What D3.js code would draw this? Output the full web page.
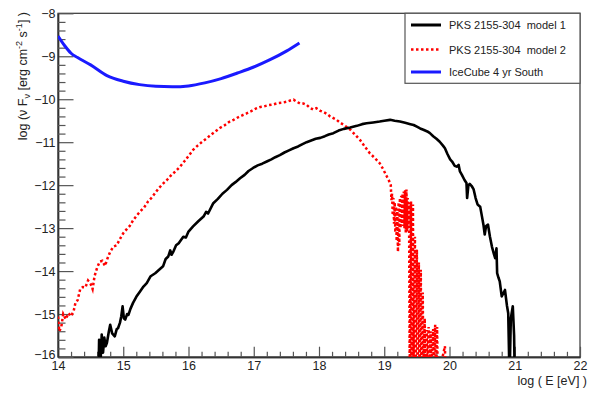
<!DOCTYPE html>
<html><head><meta charset="utf-8">
<script src="https://cdn.jsdelivr.net/npm/d3@7"></script>
<style>
html,body{margin:0;padding:0;background:#fff;}
svg{display:block;font-family:"Liberation Sans",Arial,Helvetica,sans-serif;}
</style></head>
<body><svg id="c" width="591" height="396"></svg>
<script>
// ---------- data ----------
const xTicks = [14,15,16,17,18,19,20,21,22];
const yTicks = [-16,-15,-14,-13,-12,-11,-10,-9,-8];
const seriesNames = ["PKS 2155-304  model 1","PKS 2155-304  model 2","IceCube 4 yr South"];

const iceLogE = [14.0,14.1,14.2,14.3,14.5,14.75,15.0,15.25,15.5,15.75,16.0,16.25,16.5,16.75,17.0,17.25,17.5,17.7];
const iceLogF = [-8.53,-8.75,-8.93,-9.03,-9.2,-9.45,-9.58,-9.66,-9.7,-9.71,-9.69,-9.62,-9.52,-9.39,-9.25,-9.08,-8.88,-8.69];

const m1LogE = [14.62,14.63,14.65,14.67,14.69,14.71,14.73,14.75,14.78,14.8,14.83,14.87,14.9,14.92,14.95,14.97,14.99,15.01,15.03,15.06,15.08,15.11,15.15,15.2,15.26,15.31,15.36,15.42,15.49,15.55,15.61,15.65,15.69,15.72,15.74,15.77,15.81,15.85,15.92,15.96,16.0,16.07,16.15,16.23,16.27,16.3,16.38,16.45,16.52,16.59,16.66,16.72,16.79,16.86,16.92,16.99,17.06,17.13,17.2,17.27,17.33,17.4,17.47,17.54,17.61,17.68,17.74,17.81,17.88,17.95,18.02,18.09,18.15,18.22,18.3,18.38,18.48,18.58,18.66,18.73,18.83,18.93,19.0,19.09,19.16,19.24,19.32,19.4,19.45,19.5,19.55,19.6,19.66,19.7,19.75,19.8,19.85,19.9,19.93,19.97,20.01,20.04,20.08,20.11,20.14,20.16,20.19,20.23,20.26,20.27,20.29,20.31,20.34,20.37,20.4,20.43,20.47,20.5,20.52,20.54,20.56,20.59,20.62,20.65,20.68,20.7,20.72,20.73,20.75,20.77,20.8,20.83,20.85,20.88,20.9,20.92,20.94,20.97,20.99,21.0];
const m1LogF = [-16.5,-15.6,-16.2,-15.48,-15.9,-15.55,-15.75,-15.67,-15.4,-15.25,-15.45,-15.52,-15.35,-15.33,-15.2,-15.05,-14.82,-15.1,-15.13,-15.0,-15.02,-14.88,-14.74,-14.6,-14.47,-14.36,-14.28,-14.12,-14.05,-13.97,-13.89,-13.72,-13.66,-13.52,-13.62,-13.54,-13.4,-13.35,-13.2,-13.22,-13.08,-12.96,-12.84,-12.73,-12.62,-12.66,-12.42,-12.32,-12.2,-12.11,-12.0,-11.93,-11.84,-11.76,-11.67,-11.6,-11.54,-11.5,-11.45,-11.4,-11.35,-11.3,-11.24,-11.19,-11.14,-11.1,-11.05,-11.0,-10.96,-10.92,-10.9,-10.86,-10.82,-10.79,-10.73,-10.69,-10.66,-10.62,-10.58,-10.56,-10.54,-10.52,-10.5,-10.48,-10.5,-10.52,-10.55,-10.58,-10.6,-10.64,-10.68,-10.71,-10.75,-10.79,-10.86,-10.92,-10.99,-11.08,-11.14,-11.28,-11.4,-11.45,-11.55,-11.57,-11.53,-11.68,-11.76,-11.88,-11.95,-12.3,-12.0,-11.97,-12.02,-12.1,-12.3,-12.45,-12.5,-12.75,-12.92,-13.15,-12.95,-12.92,-13.2,-13.43,-13.6,-13.7,-13.47,-14.05,-14.15,-14.24,-14.59,-14.5,-14.44,-14.8,-14.98,-16.5,-15.1,-14.82,-15.5,-16.5];

const m2LogE = [14.0,14.02,14.05,14.08,14.12,14.16,14.2,14.24,14.27,14.3,14.34,14.38,14.42,14.46,14.5,14.53,14.56,14.6,14.64,14.68,14.72,14.76,14.8,14.85,14.9,14.95,15.0,15.05,15.1,15.15,15.2,15.26,15.32,15.38,15.43,15.48,15.54,15.6,15.67,15.74,15.8,15.87,15.94,16.0,16.07,16.14,16.21,16.28,16.35,16.42,16.48,16.55,16.62,16.69,16.76,16.83,16.89,16.96,17.03,17.1,17.15,17.22,17.3,17.37,17.44,17.5,17.56,17.61,17.66,17.71,17.76,17.81,17.86,17.91,17.96,18.02,18.07,18.12,18.17,18.22,18.27,18.32,18.4,18.48,18.55,18.63,18.7,18.78,18.85,18.93,18.98,19.04,19.09,19.1,19.11,19.12,19.13,19.14,19.15,19.16,19.17,19.18,19.19,19.2,19.21,19.22,19.23,19.24,19.25,19.26,19.27,19.28,19.29,19.3,19.31,19.32,19.33,19.34,19.35,19.36,19.37,19.38,19.39,19.41,19.42,19.44,19.45,19.47,19.48,19.5,19.51,19.53,19.54,19.56,19.57,19.59,19.6,19.62,19.63,19.65,19.66,19.68,19.69,19.71,19.72,19.75,19.76,19.78,19.79,19.81,19.82,19.93,19.94];
const m2LogF = [-15.06,-15.4,-15.3,-15.0,-15.12,-14.98,-15.05,-14.93,-14.72,-14.68,-14.42,-14.37,-14.38,-14.22,-14.3,-14.42,-14.12,-13.92,-13.78,-13.76,-13.88,-13.7,-13.55,-13.43,-13.4,-13.25,-13.12,-13.03,-12.95,-12.82,-12.72,-12.61,-12.52,-12.38,-12.3,-12.2,-12.08,-11.98,-11.88,-11.76,-11.68,-11.57,-11.44,-11.32,-11.18,-11.08,-10.99,-10.91,-10.82,-10.74,-10.67,-10.61,-10.53,-10.48,-10.42,-10.37,-10.33,-10.28,-10.22,-10.18,-10.17,-10.14,-10.12,-10.09,-10.08,-10.06,-10.03,-10.01,-10.06,-10.1,-10.1,-10.13,-10.2,-10.24,-10.21,-10.27,-10.3,-10.34,-10.4,-10.44,-10.48,-10.54,-10.62,-10.71,-10.82,-10.95,-11.1,-11.26,-11.36,-11.49,-11.62,-11.8,-11.95,-12.0,-12.35,-12.2,-12.7,-12.3,-12.9,-12.4,-13.1,-12.5,-13.3,-12.6,-13.55,-12.4,-13.4,-12.3,-13.0,-12.25,-12.9,-12.2,-12.95,-12.15,-13.0,-12.12,-13.1,-12.1,-13.08,-12.3,-13.0,-12.4,-16.5,-12.38,-16.5,-12.45,-16.5,-13.2,-16.5,-13.5,-16.5,-13.8,-16.5,-13.97,-16.5,-14.5,-16.5,-15.1,-16.5,-15.37,-16.5,-15.3,-16.5,-15.4,-16.5,-15.35,-16.5,-15.25,-16.5,-15.3,-16.5,-15.75,-16.5];

// ---------- drawing ----------
const svg = d3.select("#c");
const L=58, R=580, T=13.3, B=357;
const x = d3.scaleLinear().domain([14,22]).range([L,R]);
const y = d3.scaleLinear().domain([-16,-8]).range([B,T]);
const ink = "#222";

svg.append("defs").append("clipPath").attr("id","clip")
  .append("rect").attr("x",L).attr("y",T).attr("width",R-L).attr("height",B-T);

// frame
svg.append("rect").attr("x",L).attr("y",T).attr("width",R-L).attr("height",B-T)
  .attr("fill","none").attr("stroke","#333").attr("stroke-width",1.2);

const xMinor = d3.range(14,22.0001,0.2).filter(v=>Math.abs(v-Math.round(v))>1e-6);
const yMinor = d3.range(-16,-7.9999,0.2).filter(v=>Math.abs(v-Math.round(v))>1e-6);

// x axis
const gx = svg.append("g").attr("transform",`translate(0,${B})`);
gx.call(d3.axisBottom(x).tickValues(xTicks).tickFormat(d3.format("d")).tickSize(-10.3).tickSizeOuter(0).tickPadding(4.5));
const gxm = svg.append("g").attr("transform",`translate(0,${B})`);
gxm.call(d3.axisBottom(x).tickValues(xMinor).tickFormat("").tickSize(-5.2).tickSizeOuter(0));
// y axis
const gy = svg.append("g").attr("transform",`translate(${L},0)`);
gy.call(d3.axisLeft(y).tickValues(yTicks).tickFormat(d3.format("d")).tickSize(-15.5).tickSizeOuter(0).tickPadding(2.5));
const gym = svg.append("g").attr("transform",`translate(${L},0)`);
gym.call(d3.axisLeft(y).tickValues(yMinor).tickFormat("").tickSize(-7.5).tickSizeOuter(0));

svg.selectAll(".tick line").attr("stroke","#555").attr("stroke-width",1.2);
svg.selectAll(".domain").attr("stroke","#333").attr("stroke-width",1.4);
svg.selectAll(".tick text").attr("fill",ink).style("font-size","12.5px")
  .style("font-family","'Liberation Sans',Arial,sans-serif");
// nudge the corner label "-16" slightly so it does not sit on "14"
gy.selectAll(".tick").filter(d=>d===-16).select("text").attr("dy","0.1em");

// axis titles
svg.append("text").attr("x",587).attr("y",385).attr("text-anchor","end")
  .attr("fill",ink).style("font-size","12.5px").text("log ( E [eV] )");

const yt = svg.append("text").attr("transform","translate(27,12) rotate(-90)")
  .attr("text-anchor","end").attr("fill",ink).style("font-size","12.5px");
yt.append("tspan").text("log (\u03bd F");
yt.append("tspan").attr("dy",3).style("font-size","9px").text("\u03bd");
yt.append("tspan").attr("dy",-3).text(" [erg cm");
yt.append("tspan").attr("dy",-5).style("font-size","9px").text("-2");
yt.append("tspan").attr("dy",5).text(" s");
yt.append("tspan").attr("dy",-5).style("font-size","9px").text("-1");
yt.append("tspan").attr("dy",5).text("] )");

// curves
const line = d3.line().x(d=>x(d[0])).y(d=>y(d[1]));
const plot = svg.append("g").attr("clip-path","url(#clip)");
const zip = (a,b)=>a.map((v,i)=>[v,b[i]]);

plot.append("path").datum(zip(m2LogE,m2LogF)).attr("d",line)
  .attr("fill","none").attr("stroke","#ff0000").attr("stroke-width",2.5)
  .attr("stroke-dasharray","2.5,2.5");
plot.append("path").datum(zip(m1LogE,m1LogF)).attr("d",line)
  .attr("fill","none").attr("stroke","#000").attr("stroke-width",2.6)
  .attr("stroke-linejoin","round");
plot.append("path").datum(zip(iceLogE,iceLogF)).attr("d",d3.line().x(d=>x(d[0])).y(d=>y(d[1])).curve(d3.curveMonotoneX))
  .attr("fill","none").attr("stroke","#1a1aff").attr("stroke-width",3);

// legend
const lg = svg.append("g");
lg.append("rect").attr("x",405).attr("y",13.3).attr("width",175).attr("height",70)
  .attr("fill","#fff").attr("stroke","#555").attr("stroke-width",1.2);
const legStyles = [
  {c:"#000",w:3,d:null},
  {c:"#ff0000",w:2.5,d:"2.5,2.5"},
  {c:"#1a1aff",w:3,d:null}
];
const rowY = [25,49.5,72];
seriesNames.forEach((n,i)=>{
  const l = lg.append("line").attr("x1",411).attr("x2",441).attr("y1",rowY[i]).attr("y2",rowY[i])
    .attr("stroke",legStyles[i].c).attr("stroke-width",legStyles[i].w);
  if(legStyles[i].d) l.attr("stroke-dasharray",legStyles[i].d);
  lg.append("text").attr("x",449).attr("y",rowY[i]+4).attr("fill",ink)
    .style("font-size","11px").style("white-space","pre").text(n);
});
</script></body></html>
